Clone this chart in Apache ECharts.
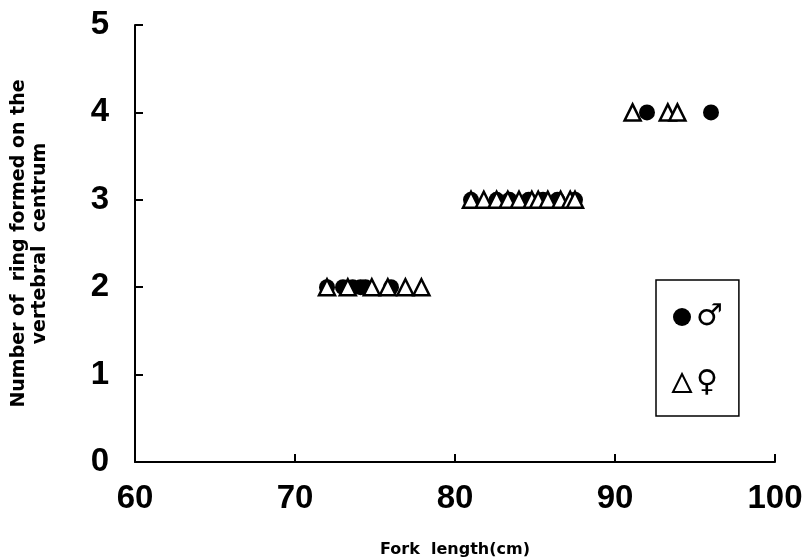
<!DOCTYPE html>
<html><head><meta charset="utf-8">
<script src="https://cdn.jsdelivr.net/npm/echarts@6/dist/echarts.min.js"></script>
<style>html,body{margin:0;padding:0;background:#fff}#c{width:802px;height:558px}</style>
</head><body><div id="c"></div>
<script>
const maleX = [72.0, 73.0, 73.6, 74.1, 74.4, 76.0, 81.0, 82.6, 83.4, 84.6, 85.5, 86.4, 87.5, 92.0, 96.0];
const maleY = [2, 2, 2, 2, 2, 2, 3, 3, 3, 3, 3, 3, 3, 4, 4];
const femaleX = [72.0, 73.3, 74.8, 75.8, 76.9, 77.9, 81.0, 81.8, 82.6, 83.3, 84.0, 84.8, 85.2, 85.8, 86.6, 87.2, 87.5, 91.1, 93.3, 93.9];
const femaleY = [2, 2, 2, 2, 2, 2, 3, 3, 3, 3, 3, 3, 3, 3, 3, 3, 3, 4, 4, 4];
const xTicks = [60, 70, 80, 90, 100];
const yTicks = [0, 1, 2, 3, 4, 5];
const zip = (a, b) => a.map((v, i) => [v, b[i]]);
const chart = echarts.init(document.getElementById('c'));
const numFont = 'Liberation Sans, Arial, sans-serif';
const nameFont = 'DejaVu Sans, sans-serif';
chart.setOption({
  animation: false,
  backgroundColor: '#fff',
  grid: {left: 135, top: 25, right: 27, bottom: 96, outerBoundsMode: 'none', containLabel: false},
  xAxis: {
    type: 'value', min: xTicks[0], max: xTicks[xTicks.length-1], interval: 10,
    name: 'Fork  length(cm)', nameLocation: 'middle', nameGap: 80,
    nameTextStyle: {fontFamily: nameFont, fontWeight: 'bold', fontSize: 16, color: '#000'},
    axisLine: {lineStyle: {color: '#000', width: 2}},
    axisTick: {inside: true, length: 8, lineStyle: {color: '#000', width: 2}},
    axisLabel: {fontFamily: numFont, fontWeight: 'bold', fontSize: 33, color: '#000', margin: 20},
    splitLine: {show: false}
  },
  yAxis: {
    type: 'value', min: yTicks[0], max: yTicks[yTicks.length-1], interval: 1,
    name: 'Number of  ring formed on the\nvertebral  centrum', nameLocation: 'middle', nameGap: 84,
    nameTextStyle: {fontFamily: nameFont, fontWeight: 'bold', fontSize: 19, color: '#000', lineHeight: 21},
    axisLine: {lineStyle: {color: '#000', width: 2}},
    axisTick: {inside: true, length: 8, lineStyle: {color: '#000', width: 2}},
    axisLabel: {fontFamily: numFont, fontWeight: 'bold', fontSize: 33, color: '#000', margin: 26},
    splitLine: {show: false}
  },
  legend: {
    orient: 'vertical', left: 656, top: 280, width: 82,
    borderColor: '#000', borderWidth: 1.5, padding: [22, 16, 18, 16], itemGap: 36,
    itemWidth: 18, itemHeight: 18,
    textStyle: {fontSize: 30, fontWeight: 'bold', color: '#000', fontFamily: 'DejaVu Sans, sans-serif'},
    data: ['♂', '♀']
  },
  series: [
    {name: '♀', type: 'scatter', symbol: 'triangle', symbolSize: 16, z: 2,
     itemStyle: {color: '#fff', borderColor: '#000', borderWidth: 2.5, opacity: 1},
     data: zip(femaleX, femaleY)},
    {name: '♂', type: 'scatter', symbol: 'circle', symbolSize: 16, z: 1,
     itemStyle: {color: '#000', borderColor: '#000', borderWidth: 0, opacity: 1},
     data: zip(maleX, maleY)}
  ]
});
</script></body></html>
